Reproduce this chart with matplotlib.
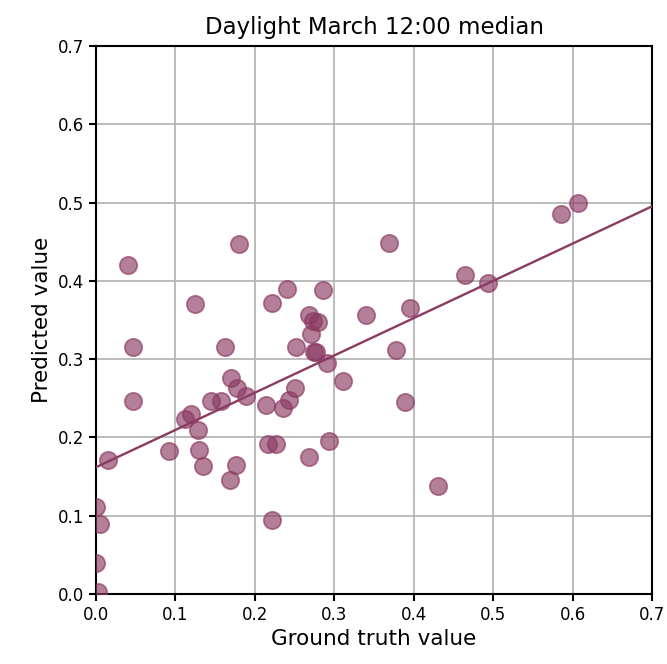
import matplotlib
matplotlib.use("Agg")
import matplotlib.pyplot as plt
import numpy as np

# ground truth vs predicted values
ground_truth = [
    0.002, 0.000, 0.000, 0.005, 0.015, 0.040, 0.047, 0.047, 0.092, 0.112,
    0.120, 0.124, 0.128, 0.129, 0.135, 0.145, 0.157, 0.162, 0.170, 0.169,
    0.176, 0.178, 0.180, 0.189, 0.214, 0.216, 0.227, 0.221, 0.222, 0.235,
    0.240, 0.243, 0.251, 0.252, 0.268, 0.268, 0.271, 0.273, 0.274, 0.277,
    0.280, 0.286, 0.291, 0.293, 0.311, 0.340, 0.369, 0.378, 0.389, 0.395,
    0.430, 0.465, 0.494, 0.586, 0.607,
]
predicted = [
    0.003, 0.040, 0.111, 0.090, 0.171, 0.420, 0.315, 0.246, 0.183, 0.224,
    0.230, 0.370, 0.210, 0.184, 0.163, 0.246, 0.246, 0.315, 0.276, 0.146,
    0.165, 0.263, 0.447, 0.253, 0.241, 0.192, 0.192, 0.372, 0.094, 0.238,
    0.390, 0.248, 0.263, 0.315, 0.175, 0.357, 0.332, 0.349, 0.309, 0.309,
    0.348, 0.388, 0.295, 0.196, 0.272, 0.356, 0.448, 0.312, 0.245, 0.365,
    0.138, 0.408, 0.397, 0.486, 0.500,
]

# regression line (value at x = 0 and slope)
fit_intercept = 0.162
fit_slope = 0.476

color = "#8b3a62"

fig = plt.figure(figsize=(6.67, 6.64), dpi=100)
ax = fig.add_axes([0.144, 0.1054, 0.8335, 0.8253])

ax.scatter(ground_truth, predicted, s=155, color=color, alpha=0.65,
           edgecolors=color, linewidths=1.3, zorder=3)

xs = np.array([0.0, 0.7])
ax.plot(xs, fit_intercept + fit_slope * xs, color=color, linewidth=1.7, zorder=4)

ax.set_xlim(0, 0.7)
ax.set_ylim(0, 0.7)
ax.set_xticks(np.arange(0, 0.71, 0.1))
ax.set_yticks(np.arange(0, 0.71, 0.1))
ax.grid(True, color="#b0b0b0", linewidth=1.2, zorder=0)
ax.set_axisbelow(True)

for sp in ax.spines.values():
    sp.set_linewidth(1.5)
ax.tick_params(labelsize=12, width=1.5, length=5)

ax.set_xlabel("Ground truth value", fontsize=15.5)
ax.set_ylabel("Predicted value", fontsize=15.5)
ax.set_title("Daylight March 12:00 median", fontsize=16.5, pad=9)

fig.savefig("out.png", dpi=100)
